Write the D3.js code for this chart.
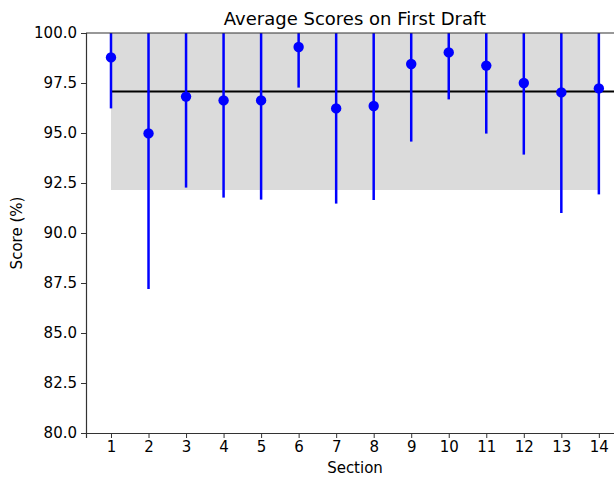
<!DOCTYPE html>
<html>
<head>
<meta charset="utf-8">
<script src="https://cdn.jsdelivr.net/npm/d3@7"></script>
<style>
  body { margin: 0; background: #fff; }
  text { font-family: "DejaVu Sans", sans-serif; fill: #000; }
</style>
</head>
<body>
<svg id="chart"></svg>
<script>
const width = 614
const height = 477
const margin = {top: 33, right: -10, bottom: 44, left: 86}

// data
const sections = [1, 2, 3, 4, 5, 6, 7, 8, 9, 10, 11, 12, 13, 14]
const avgScores = [98.78, 94.98, 96.82, 96.63, 96.63, 99.30, 96.23, 96.35, 98.45, 99.03, 98.37, 97.50, 97.03, 97.23]
const scoreErrors = [2.55, 7.78, 4.55, 4.86, 4.96, 2.03, 4.76, 4.70, 3.88, 2.35, 3.40, 3.58, 6.03, 5.30]
const overallMean = 97.07
const bandRange = [92.15, 101.99]
const yTicks = [80, 82.5, 85, 87.5, 90, 92.5, 95, 97.5, 100]

const plotW = width - margin.left - margin.right
const plotH = height - margin.top - margin.bottom

const x = d3.scaleLinear().domain([0.334, 14.67]).range([0, plotW])
const y = d3.scaleLinear().domain([80, 100]).range([plotH, 0])

const svg = d3.select('#chart').attr('width', width).attr('height', height)

svg.append('defs').append('clipPath').attr('id', 'clip')
  .append('rect').attr('x', 0).attr('y', 0).attr('width', plotW).attr('height', plotH)

const g = svg.append('g').attr('transform', `translate(${margin.left},${margin.top})`)
const plot = g.append('g').attr('clip-path', 'url(#clip)')

// shaded band
plot.append('rect')
  .attr('x', x(sections[0]))
  .attr('width', x(sections[sections.length - 1]) - x(sections[0]))
  .attr('y', y(bandRange[1]))
  .attr('height', y(bandRange[0]) - y(bandRange[1]))
  .attr('fill', '#dbdbdb')

// mean line
plot.append('line')
  .attr('x1', x(sections[0])).attr('x2', x(15.5))
  .attr('y1', y(overallMean)).attr('y2', y(overallMean))
  .attr('stroke', '#000').attr('stroke-width', 2)

const pts = sections.map((s, i) => ({s: s, v: avgScores[i], e: scoreErrors[i]}))

// error bars
plot.selectAll('line.err').data(pts).enter().append('line')
  .attr('class', 'err')
  .attr('x1', d => x(d.s)).attr('x2', d => x(d.s))
  .attr('y1', d => y(d.v - d.e)).attr('y2', d => y(d.v + d.e))
  .attr('stroke', '#0000ff').attr('stroke-width', 2.5)

// points
plot.selectAll('circle').data(pts).enter().append('circle')
  .attr('cx', d => x(d.s)).attr('cy', d => y(d.v))
  .attr('r', 5.2).attr('fill', '#0000ff')

// axes
const xAxis = g.append('g').attr('transform', `translate(0,${plotH})`)
  .call(d3.axisBottom(x).tickValues(sections).tickFormat(d3.format('d')).tickSize(5).tickPadding(3))
const yAxis = g.append('g')
  .call(d3.axisLeft(y).tickValues(yTicks).tickFormat(d3.format('.1f')).tickSize(5).tickPadding(4))

for (const ax of [xAxis, yAxis]) {
  ax.selectAll('text').style('font-size', '15px').attr('fill', '#000')
  ax.selectAll('line').attr('stroke', '#333').attr('stroke-width', 1)
  ax.select('.domain').attr('stroke', '#333').attr('stroke-width', 1.2)
}
// top spine
g.append('line').attr('x1', 0).attr('x2', plotW).attr('y1', 0).attr('y2', 0)
  .attr('stroke', '#333').attr('stroke-width', 1.2)

// labels
svg.append('text')
  .attr('x', margin.left + plotW / 2).attr('y', 25)
  .attr('text-anchor', 'middle').style('font-size', '18px')
  .text('Average Scores on First Draft')

svg.append('text')
  .attr('x', margin.left + plotW / 2).attr('y', 473)
  .attr('text-anchor', 'middle').style('font-size', '15px')
  .text('Section')

svg.append('text')
  .attr('transform', `translate(22,${margin.top + plotH / 2}) rotate(-90)`)
  .attr('text-anchor', 'middle').style('font-size', '15px')
  .text('Score (%)')
</script>
</body>
</html>
